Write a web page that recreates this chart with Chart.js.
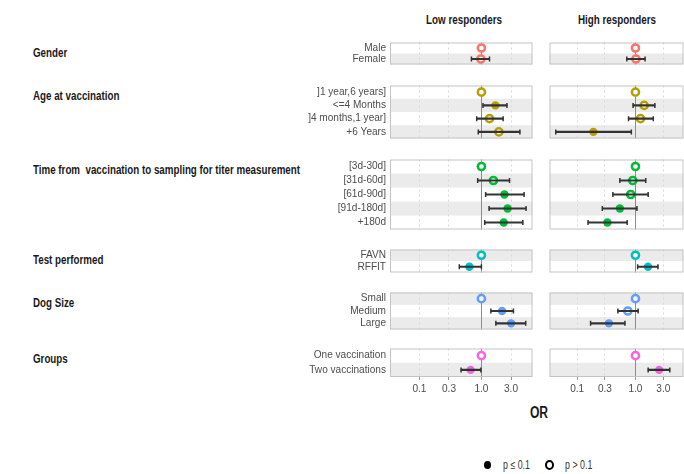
<!DOCTYPE html>
<html>
<head>
<meta charset="utf-8">
<script src="https://cdn.jsdelivr.net/npm/chart.js@4.4.1/dist/chart.umd.min.js"></script>
<style>
    body { margin: 0; background: #fff; }
    #wrap { position: relative; width: 684px; height: 474px; overflow: hidden; background: #fff;
            font-family: "Liberation Sans", Arial, sans-serif; }
    .abs { position: absolute; white-space: pre; }
    .facet { font-weight: bold; font-size: 13px; color: #1a1a1a; line-height: 16px; }
    .gtitle { font-weight: bold; font-size: 12.5px; color: #1a1a1a; line-height: 14px; }
    .legtxt { font-size: 12px; color: #333; line-height: 14px; }
</style>
</head>
<body>
<div id="wrap"></div>
<script>
const groupTitles = ['Gender', 'Age at vaccination', 'Time from  vaccination to sampling for titer measurement',
    'Test performed', 'Dog Size', 'Groups'];
const genderLevels = ['Male', 'Female'];
const ageLevels = [']1 year,6 years]', '<=4 Months', ']4 months,1 year]', '+6 Years'];
const timeLevels = ['[3d-30d]', '[31d-60d]', '[61d-90d]', '[91d-180d]', '+180d'];
const testLevels = ['FAVN', 'RFFIT'];
const sizeLevels = ['Small', 'Medium', 'Large'];
const groupLevels = ['One vaccination', 'Two vaccinations'];
const groupColors = ['#F8766D', '#B79F00', '#00BA38', '#00BFC4', '#619CFF', '#F564E3'];
const facetNames = ['Low responders', 'High responders'];

// one value per row, rows in the order of the level arrays above (null = reference level)
const lowOR    = [1, 0.98, 1, 1.68, 1.35, 1.91, 1, 1.56, 2.35, 2.64, 2.29, 1, 0.64, 1, 2.15, 3.01, 1, 0.67];
const lowLower = [null, 0.69, null, 1.06, 0.84, 0.89, null, 0.87, 1.17, 1.33, 1.13, null, 0.44, null, 1.42, 1.71, null, 0.47];
const lowUpper = [null, 1.35, null, 2.58, 2.24, 4.17, null, 2.84, 4.87, 5.24, 4.65, null, 1.0, null, 3.28, 5.18, null, 0.98];
const lowSig   = [false, false, false, true, false, false, false, false, true, true, true, false, true, false, true, true, false, true];

const highOR    = [1, 1.02, 1, 1.41, 1.22, 0.19, 1, 0.90, 0.83, 0.54, 0.33, 1, 1.64, 1, 0.74, 0.35, 1, 2.55];
const highLower = [null, 0.71, null, 0.91, 0.76, 0.043, null, 0.54, 0.41, 0.27, 0.154, null, 1.09, null, 0.50, 0.17, null, 1.65];
const highUpper = [null, 1.46, null, 2.15, 2.02, 0.85, null, 1.50, 1.65, 1.06, 0.72, null, 2.43, null, 1.11, 0.66, null, 3.88];
const highSig   = [false, false, false, false, false, true, false, false, false, true, true, false, true, false, false, true, false, true];

const tickValues = [0.1, 0.3, 1, 3];
const tickLabels = ['0.1', '0.3', '1.0', '3.0'];
const xMin = 0.0336;
const xMax = 6.66;

// layout
const panelTop = [37, 80, 154, 244, 287, 343];
const panelBottom = [70, 144, 235, 278, 335, 377];
const FAMILY = '"Liberation Sans", Arial, sans-serif';

// the original uses a narrow font; squeeze text to the widths it has there
const measureCtx = document.createElement('canvas').getContext('2d');
function textWidth(text, font) {
    measureCtx.font = font + ' ' + FAMILY;
    return measureCtx.measureText(text).width;
}
const labelSize = Math.min(12, 12 * 78 / textWidth(']4 months,1 year]', '12px'));
const titleSqueeze = Math.min(1, 267 / textWidth(groupTitles[2], 'bold 12.5px'));
const facetSqueeze = Math.min(1, 76 / textWidth(facetNames[0], 'bold 13px'));
const legendSqueeze = Math.min(1, 27 / textWidth('p \u2264 0.1', '12px'));
const tickFont = { family: FAMILY, size: labelSize };

const panelPlugin = {
    id: 'panel',
    beforeDraw(chart, args, opts) {
        const { ctx, chartArea: a, scales: { y } } = chart;
        const n = chart.data.labels.length;
        const h = a.height / n;
        ctx.save();
        ctx.fillStyle = '#fff';
        ctx.fillRect(a.left, a.top, a.width, a.height);
        ctx.fillStyle = '#ebebeb';
        chart.data.labels.forEach((_, j) => {
            if ((opts.rowStart + j) % 2 === 1) {
                const yc = y.getPixelForValue(j);
                ctx.fillRect(a.left, yc - h / 2, a.width, h);
            }
        });
        ctx.restore();
    },
    beforeDatasetsDraw(chart) {
        const { ctx, chartArea: a, scales: { x } } = chart;
        const xr = Math.round(x.getPixelForValue(1)) + 0.5;
        ctx.save();
        ctx.strokeStyle = '#8c8c8c';
        ctx.lineWidth = 1;
        ctx.beginPath();
        ctx.moveTo(xr, a.top);
        ctx.lineTo(xr, a.bottom);
        ctx.stroke();
        ctx.strokeStyle = '#c4c4c4';
        ctx.strokeRect(a.left + 0.5, a.top + 0.5, a.width - 1, a.height - 1);
        ctx.restore();
    }
};

const wrap = document.getElementById('wrap');

function addText(cls, text, left, top, squeeze, centered) {
    const d = document.createElement('div');
    d.className = 'abs ' + cls;
    d.textContent = text;
    d.style.left = left + 'px';
    d.style.top = top + 'px';
    d.style.transform = (centered ? 'translateX(-50%) ' : '') + 'scaleX(' + squeeze + ')';
    d.style.transformOrigin = centered ? 'center center' : 'left center';
    wrap.appendChild(d);
    return d;
}

addText('facet', facetNames[0], 463.5, 12, facetSqueeze, true);
addText('facet', facetNames[1], 616.5, 12, facetSqueeze, true);

function makePanel(g, facet, levels, rowStart) {
    const last = g === panelTop.length - 1;
    const withLabels = facet === 0;
    const or = facet === 0 ? lowOR : highOR;
    const lower = facet === 0 ? lowLower : highLower;
    const upper = facet === 0 ? lowUpper : highUpper;
    const sig = facet === 0 ? lowSig : highSig;
    const color = groupColors[g];

    const left = withLabels ? 296 : 543;
    const width = withLabels ? 243 : 147;
    const ph = panelBottom[g] - panelTop[g];
    const height = ph + 2 + (last ? 22 : 0);

    const canvas = document.createElement('canvas');
    canvas.width = width;
    canvas.height = height;
    canvas.className = 'abs';
    canvas.style.left = left + 'px';
    canvas.style.top = (panelTop[g] - 1) + 'px';
    wrap.appendChild(canvas);

    const rows = levels.map((_, j) => rowStart + j);
    const bars = rows.map(i => lower[i] == null ? null : [lower[i], upper[i]]);
    const caps = [];
    rows.forEach((i, j) => {
        if (lower[i] != null) {
            caps.push({ x: lower[i], y: levels[j] });
            caps.push({ x: upper[i], y: levels[j] });
        }
    });
    const points = rows.map((i, j) => ({ x: or[i], y: levels[j] }));

    new Chart(canvas, {
        type: 'scatter',
        data: {
            labels: levels,
            datasets: [
                {
                    type: 'bar',
                    indexAxis: 'y',
                    data: bars,
                    backgroundColor: '#333',
                    borderWidth: 0,
                    barThickness: 1.5
                },
                {
                    type: 'scatter',
                    data: caps,
                    pointStyle: 'line',
                    rotation: 90,
                    pointRadius: 2.5,
                    borderColor: '#333',
                    pointBorderWidth: 1.5
                },
                {
                    type: 'scatter',
                    data: points,
                    pointRadius: rows.map(i => sig[i] ? 4.2 : 3.6),
                    pointBorderWidth: rows.map(i => sig[i] ? 0 : 2.5),
                    pointBackgroundColor: rows.map(i => sig[i] ? color : '#fff'),
                    pointBorderColor: color
                }
            ]
        },
        options: {
            responsive: false,
            animation: false,
            events: [],
            layout: { padding: { top: 1, bottom: 1, left: 0, right: withLabels ? 2 : 0 } },
            scales: {
                x: {
                    type: 'logarithmic',
                    min: xMin,
                    max: xMax,
                    bounds: 'data',
                    afterBuildTicks: s => { s.ticks = tickValues.map(v => ({ value: v })); },
                    afterFit: s => { s.height = last ? 22 : 0; s.paddingLeft = 0; s.paddingRight = 0; },
                    grid: {
                        color: '#d9d9d9',
                        drawTicks: last,
                        tickLength: 3,
                        tickColor: '#999'
                    },
                    border: { display: false, dash: [2, 3] },
                    ticks: {
                        display: last,
                        autoSkip: false,
                        maxRotation: 0,
                        padding: 3,
                        color: '#4d4d4d',
                        font: tickFont,
                        callback: (v, i) => tickLabels[i]
                    }
                },
                y: {
                    type: 'category',
                    offset: true,
                    display: withLabels,
                    afterFit: s => {
                        if (withLabels) s.width = 94;
                        s.paddingTop = 0;
                        s.paddingBottom = 0;
                    },
                    grid: { display: false, drawTicks: false },
                    border: { display: false },
                    ticks: { color: '#4d4d4d', padding: 4, autoSkip: false, font: tickFont }
                }
            },
            plugins: {
                legend: { display: false },
                tooltip: { enabled: false },
                panel: { rowStart: rowStart }
            }
        },
        plugins: [panelPlugin]
    });
}

const levelSets = [genderLevels, ageLevels, timeLevels, testLevels, sizeLevels, groupLevels];
let rowStart = 0;
levelSets.forEach((levels, g) => {
    addText('gtitle', groupTitles[g], 33, panelTop[g] + 9, titleSqueeze, false);
    makePanel(g, 0, levels, rowStart);
    makePanel(g, 1, levels, rowStart);
    rowStart += levels.length;
});

const orLabel = addText('facet', 'OR', 539, 404, facetSqueeze, true);
orLabel.style.fontSize = '16px';
orLabel.style.lineHeight = '18px';

// legend for the point symbols
const dot = document.createElement('div');
dot.className = 'abs';
Object.assign(dot.style, { left: '484px', top: '461px', width: '7px', height: '8px', borderRadius: '50%', background: '#000' });
wrap.appendChild(dot);
addText('legtxt', 'p \u2264 0.1', 503, 458, legendSqueeze, false);
const ring = document.createElement('div');
ring.className = 'abs';
Object.assign(ring.style, { left: '545px', top: '460px', width: '9px', height: '10px', borderRadius: '50%',
    border: '2.5px solid #000', boxSizing: 'border-box', background: '#fff' });
wrap.appendChild(ring);
addText('legtxt', 'p > 0.1', 565, 458, legendSqueeze, false);
</script>
</body>
</html>
